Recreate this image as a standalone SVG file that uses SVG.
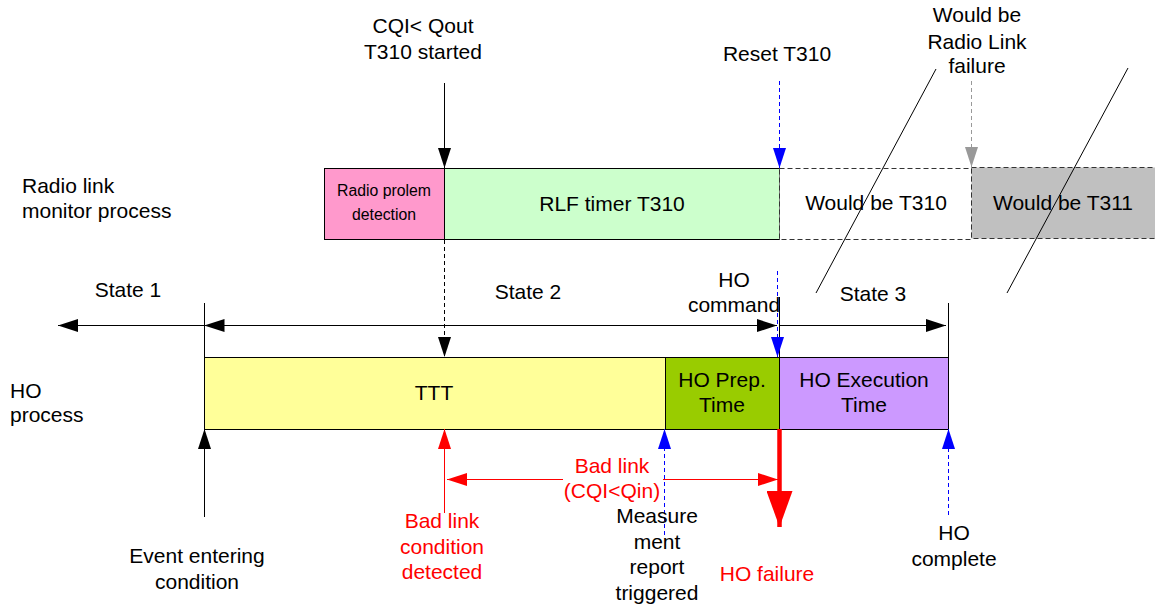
<svg xmlns="http://www.w3.org/2000/svg" width="1155" height="607" viewBox="0 0 1155 607">
<style>
text{font-family:"Liberation Sans",Arial,sans-serif;font-size:21px;fill:#000}
.c{text-anchor:middle}
.r{fill:#FF0000}
.sm{font-size:15.8px}
.box{stroke:#000;stroke-width:1}
.dbox{stroke:#333;stroke-width:1;stroke-dasharray:5,3}
.ln{stroke:#000;stroke-width:1;fill:none}
.bl{stroke:#0000FF;stroke-width:1;stroke-dasharray:4,3;fill:none}
.gr{stroke:#999;stroke-width:1;stroke-dasharray:4,3;fill:none}
.rd{stroke:#FF0000;stroke-width:1;fill:none}
</style>
<defs>
<marker id="ak" markerUnits="userSpaceOnUse" markerWidth="20" markerHeight="13" refX="20" refY="6.5" orient="auto-start-reverse"><path d="M0,0 L20,6.5 L0,13 z" fill="#000"/></marker>
<marker id="ab" markerUnits="userSpaceOnUse" markerWidth="20" markerHeight="13" refX="20" refY="6.5" orient="auto"><path d="M0,0 L20,6.5 L0,13 z" fill="#0000FF"/></marker>
<marker id="ag" markerUnits="userSpaceOnUse" markerWidth="20" markerHeight="13" refX="20" refY="6.5" orient="auto"><path d="M0,0 L20,6.5 L0,13 z" fill="#999"/></marker>
<marker id="ar" markerUnits="userSpaceOnUse" markerWidth="20" markerHeight="13" refX="20" refY="6.5" orient="auto"><path d="M0,0 L20,6.5 L0,13 z" fill="#FF0000"/></marker>
<marker id="arb" markerUnits="userSpaceOnUse" markerWidth="36" markerHeight="26" refX="36" refY="13" orient="auto"><path d="M0,0 L36,13 L0,26 z" fill="#FF0000"/></marker>
</defs>

<g id="labels">
<text x="22" y="193">Radio link</text>
<text x="22" y="218">monitor process</text>
<text x="10" y="398">HO</text>
<text x="10" y="422">process</text>
</g>

<g id="node-radio-problem">
<rect class="box" x="324.5" y="168.5" width="120" height="71" fill="#FF99CC"/>
<text class="c sm" x="384" y="196">Radio prolem</text>
<text class="c sm" x="384" y="220">detection</text>
</g>
<g id="node-rlf-t310">
<rect class="box" x="444.5" y="168.5" width="335" height="71" fill="#CCFFCC"/>
<text class="c" x="612" y="211">RLF timer T310</text>
</g>
<g id="node-would-t310">
<rect class="dbox" x="779.5" y="168.5" width="192" height="71" fill="#FFFFFF"/>
<text class="c" x="876" y="210">Would be T310</text>
</g>
<g id="node-would-t311">
<rect class="dbox" x="971.5" y="167.5" width="200" height="71" fill="#C0C0C0"/>
<text class="c" x="1063" y="210">Would be T311</text>
</g>

<g id="node-ttt">
<rect class="box" x="204.5" y="357.5" width="461" height="72" fill="#FFFF99"/>
<text class="c" x="434" y="400">TTT</text>
</g>
<g id="node-ho-prep">
<rect class="box" x="665.5" y="357.5" width="114" height="72" fill="#99CC00"/>
<text class="c" x="722" y="387">HO Prep.</text>
<text class="c" x="722" y="412">Time</text>
</g>
<g id="node-ho-exec">
<rect class="box" x="779.5" y="357.5" width="169" height="72" fill="#CC99FF"/>
<text class="c" x="864" y="387">HO Execution</text>
<text class="c" x="864" y="412">Time</text>
</g>

<g id="connectors">
<line class="ln" x1="444.5" y1="83" x2="444.5" y2="168" marker-end="url(#ak)"/>
<line class="ln" x1="444.5" y1="240" x2="444.5" y2="357" stroke="#444" stroke-dasharray="4,3" marker-end="url(#ak)"/>
<line class="bl" x1="779.5" y1="81" x2="779.5" y2="168" marker-end="url(#ab)"/>
<line class="gr" x1="971.5" y1="81" x2="971.5" y2="167" marker-end="url(#ag)"/>
<line class="ln" x1="936" y1="69" x2="816" y2="293"/>
<line class="ln" x1="1128" y1="68" x2="1007" y2="293"/>

<line class="ln" x1="204.5" y1="303" x2="204.5" y2="517"/>
<line class="ln" x1="779.5" y1="297" x2="779.5" y2="357"/>
<line class="ln" x1="948.5" y1="303" x2="948.5" y2="357"/>
<line class="ln" x1="204" y1="325.5" x2="58" y2="325.5" marker-end="url(#ak)"/>
<line class="ln" x1="204.5" y1="325.5" x2="777" y2="325.5" marker-start="url(#ak)" marker-end="url(#ak)"/>
<line class="ln" x1="779.5" y1="325.5" x2="946" y2="325.5" marker-end="url(#ak)"/>
<line class="bl" x1="777.5" y1="271" x2="777.5" y2="357" marker-end="url(#ab)"/>

<line class="ln" x1="204.5" y1="517" x2="204.5" y2="429" marker-end="url(#ak)"/>
<line class="rd" x1="444.5" y1="513" x2="444.5" y2="429" marker-end="url(#ar)"/>
<line class="rd" x1="563" y1="479.5" x2="447" y2="479.5" marker-end="url(#ar)"/>
<line class="rd" x1="663" y1="479.5" x2="778" y2="479.5" marker-end="url(#ar)"/>
<line class="bl" x1="664.5" y1="535" x2="664.5" y2="429" marker-end="url(#ab)"/>
<line stroke="#FF0000" stroke-width="4.5" x1="779.5" y1="429" x2="779.5" y2="527" marker-end="url(#arb)"/>
<line class="bl" x1="948.5" y1="515" x2="948.5" y2="429" marker-end="url(#ab)"/>
</g>

<g id="annotations">
<text class="c" x="423" y="33">CQI&lt; Qout</text>
<text class="c" x="423" y="59">T310 started</text>
<text class="c" x="777" y="61">Reset T310</text>
<text class="c" x="977" y="22">Would be</text>
<text class="c" x="977" y="49">Radio Link</text>
<text class="c" x="977" y="73">failure</text>
<text class="c" x="128" y="297">State 1</text>
<text class="c" x="528" y="299">State 2</text>
<text class="c" x="734" y="287">HO</text>
<text class="c" x="734" y="312">command</text>
<text class="c" x="873" y="301">State 3</text>
<text class="c" x="197" y="563">Event entering</text>
<text class="c" x="197" y="589">condition</text>
<text class="c r" x="442" y="528">Bad link</text>
<text class="c r" x="442" y="554">condition</text>
<text class="c r" x="442" y="579">detected</text>
<text class="c r" x="612" y="473">Bad link</text>
<text class="c r" x="612" y="498">(CQI&lt;Qin)</text>
<text class="c" x="657" y="523">Measure</text>
<text class="c" x="657" y="549">ment</text>
<text class="c" x="657" y="574">report</text>
<text class="c" x="657" y="600">triggered</text>
<text class="c r" x="767" y="581">HO failure</text>
<text class="c" x="954" y="540">HO</text>
<text class="c" x="954" y="566">complete</text>
</g>
</svg>
